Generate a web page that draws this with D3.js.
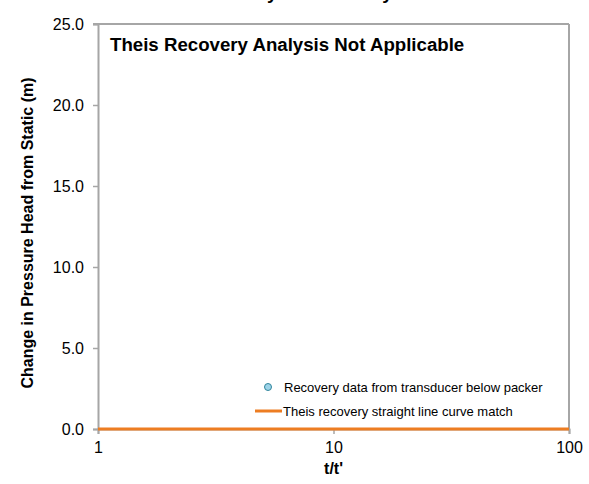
<!DOCTYPE html>
<html><head><meta charset="utf-8">
<script src="https://cdn.jsdelivr.net/npm/d3@7"></script>
<style>body{margin:0;background:#fff}svg{display:block}text{font-family:"Liberation Sans",Arial,sans-serif}</style>
</head><body>
<svg id="c" width="589" height="484"></svg>
<script>
const chartTitle = "Recovery Phase Analysis";
const note = "Theis Recovery Analysis Not Applicable";
const xTicks = [1, 10, 100];
const yTicks = [0, 5, 10, 15, 20, 25];
const recoveryT = [];
const recoveryH = [];
const theisT = [1, 100];
const theisH = [0, 0];
const legendLabels = ["Recovery data from transducer below packer", "Theis recovery straight line curve match"];

const svg = d3.select("#c");
const L = 98, R = 569, T = 24, B = 429;
const x = d3.scaleLog().domain([1, 100]).range([L, R]);
const y = d3.scaleLinear().domain([0, 25]).range([B, T]);
const frame = "#a6a6a6";

// frame
svg.append("line").attr("x1", L - 5).attr("x2", R).attr("y1", T).attr("y2", T).attr("stroke", frame).attr("stroke-width", 2);
svg.append("line").attr("x1", R).attr("x2", R).attr("y1", T).attr("y2", B).attr("stroke", frame).attr("stroke-width", 2);

const ya = svg.append("g").attr("transform", `translate(${L},0)`)
  .call(d3.axisLeft(y).tickValues(yTicks).tickFormat(d3.format(".1f")).tickSize(5).tickPadding(9));
ya.select(".domain").attr("stroke", frame).attr("stroke-width", 2);
ya.selectAll(".tick line").attr("stroke", frame).attr("stroke-width", 1.5);
ya.selectAll("text").attr("font-size", 16).attr("fill", "#000").style("font-family", "Liberation Sans, Arial");

const xa = svg.append("g").attr("transform", `translate(0,${B})`)
  .call(d3.axisBottom(x).tickValues(xTicks).tickFormat(d3.format("d")).tickSize(5).tickPadding(8));
xa.select(".domain").attr("stroke", frame).attr("stroke-width", 2);
xa.selectAll(".tick line").attr("stroke", frame).attr("stroke-width", 1.5);
xa.selectAll("text").attr("font-size", 16).attr("fill", "#000").style("font-family", "Liberation Sans, Arial");

// theis line
svg.append("path").datum(theisT.map((t, i) => [t, theisH[i]]))
  .attr("d", d3.line().x(d => x(d[0])).y(d => y(d[1])))
  .attr("fill", "none").attr("stroke", "#ED7D22").attr("stroke-width", 3);

// recovery points
svg.selectAll("circle.pt").data(recoveryT.map((t, i) => [t, recoveryH[i]])).enter().append("circle")
  .attr("class", "pt").attr("cx", d => x(d[0])).attr("cy", d => y(d[1])).attr("r", 3.5)
  .attr("fill", "#9DD3E8").attr("stroke", "#31859C");

// title (cut off at top, as in the reference)
svg.append("text").attr("x", 306).attr("y", -1).attr("text-anchor", "middle")
  .attr("font-size", 18.67).attr("font-weight", "bold").text(chartTitle);

svg.append("text").attr("x", 110).attr("y", 51).attr("font-size", 18.67).attr("font-weight", "bold").text(note);

// axis titles
svg.append("text").attr("x", (L + R) / 2).attr("y", 474).attr("text-anchor", "middle")
  .attr("font-size", 16).attr("font-weight", "bold").text("t/t'");
svg.append("text").attr("transform", `translate(33,233) rotate(-90)`).attr("text-anchor", "middle")
  .attr("font-size", 16).attr("font-weight", "bold").text("Change in Pressure Head from Static (m)");

// legend
const lg = svg.append("g");
lg.append("circle").attr("cx", 268).attr("cy", 387).attr("r", 3.5).attr("fill", "#9DD3E8").attr("stroke", "#31859C");
lg.append("text").attr("x", 284).attr("y", 391.5).attr("font-size", 13).text(legendLabels[0]);
lg.append("line").attr("x1", 255).attr("x2", 282).attr("y1", 411).attr("y2", 411).attr("stroke", "#ED7D22").attr("stroke-width", 3);
lg.append("text").attr("x", 283).attr("y", 415.5).attr("font-size", 13).text(legendLabels[1]);
</script>
</body></html>
